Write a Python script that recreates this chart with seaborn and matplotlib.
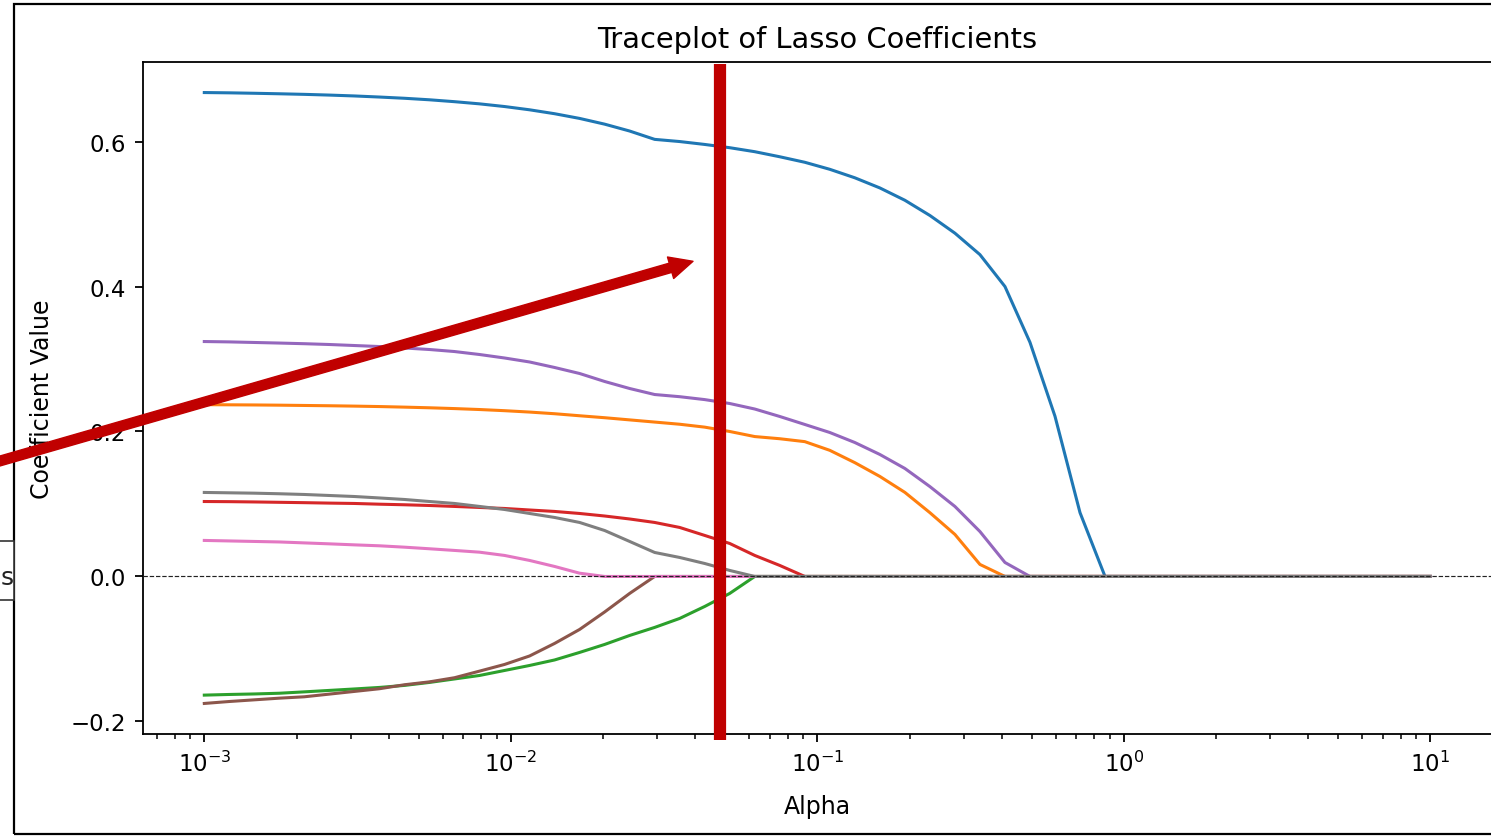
import matplotlib
matplotlib.use("Agg")
import matplotlib.pyplot as plt
import pandas as pd
import seaborn as sns
from matplotlib.patches import Rectangle, FancyArrowPatch

# Regularisation strengths (log-spaced grid, 1e-3 .. 1e1)
alphas = [0.001, 0.0012068, 0.0014563, 0.0017575, 0.0021210, 0.0025595, 0.0030888,
          0.0037276, 0.0044984, 0.0054287, 0.0065513, 0.0079060, 0.0095410, 0.011514,
          0.013895, 0.016768, 0.020236, 0.024421, 0.029471, 0.035565, 0.042919,
          0.051795, 0.062506, 0.075431, 0.091030, 0.10985, 0.13257, 0.15999, 0.19307,
          0.23300, 0.28118, 0.33932, 0.40949, 0.49417, 0.59636, 0.71969, 0.86851,
          1.0481, 1.2649, 1.5264, 1.8421, 2.2230, 2.6827, 3.2375, 3.9069, 4.7149,
          5.6899, 6.8665, 8.2864, 10.0]

# Lasso coefficient paths, one list per feature
coef_f1 = [0.6676, 0.6672, 0.6666, 0.6659, 0.6651, 0.6641, 0.6629, 0.6614, 0.6597, 0.6576,
           0.6550, 0.6520, 0.6483, 0.6438, 0.6384, 0.6319, 0.6240, 0.6145, 0.6030, 0.6000,
           0.5960, 0.5915, 0.5860, 0.5790, 0.5714, 0.5617, 0.5500, 0.5360, 0.5190, 0.4980,
           0.4736, 0.4440, 0.4000, 0.3230, 0.2210, 0.0880] + [0.0] * 14
coef_f2 = [0.2370, 0.2368, 0.2366, 0.2363, 0.2359, 0.2355, 0.2350, 0.2344, 0.2336, 0.2327,
           0.2316, 0.2303, 0.2287, 0.2268, 0.2245, 0.2217, 0.2190, 0.2160, 0.2130, 0.2100,
           0.2060, 0.2000, 0.1930, 0.1900, 0.1860, 0.1740, 0.1570, 0.1380, 0.1160, 0.0880,
           0.0580, 0.0166] + [0.0] * 18
coef_f3 = [-0.1637, -0.1628, -0.1621, -0.1611, -0.1592, -0.1572, -0.1552, -0.1531, -0.1503,
           -0.1462, -0.1414, -0.1366, -0.1297, -0.1228, -0.1152, -0.1048, -0.0938, -0.0814,
           -0.0703, -0.0579, -0.0414, -0.0234] + [0.0] * 28
coef_f4 = [0.1034, 0.1032, 0.1028, 0.1023, 0.1018, 0.1012, 0.1007, 0.0997, 0.0989, 0.0979,
           0.0966, 0.0952, 0.0938, 0.0917, 0.0897, 0.0869, 0.0834, 0.0793, 0.0745, 0.0676,
           0.0566, 0.0455, 0.0290, 0.0152] + [0.0] * 26
coef_f5 = [0.3241, 0.3236, 0.3228, 0.3220, 0.3211, 0.3200, 0.3186, 0.3172, 0.3152, 0.3131,
           0.3103, 0.3062, 0.3014, 0.2959, 0.2883, 0.2800, 0.2690, 0.2593, 0.2510, 0.2480,
           0.2440, 0.2386, 0.2310, 0.2207, 0.2097, 0.1986, 0.1848, 0.1683, 0.1490, 0.1240,
           0.0966, 0.0620, 0.0193] + [0.0] * 17
coef_f6 = [-0.1752, -0.1725, -0.1702, -0.1679, -0.1660, -0.1623, -0.1586, -0.1549, -0.1494,
           -0.1454, -0.1397, -0.1306, -0.1214, -0.1097, -0.0924, -0.0731, -0.0490,
           -0.0234] + [0.0] * 32
coef_f7 = [0.0497, 0.0490, 0.0483, 0.0476, 0.0463, 0.0450, 0.0436, 0.0423, 0.0404, 0.0382,
           0.0359, 0.0335, 0.0290, 0.0221, 0.0138, 0.0045] + [0.0] * 34
coef_f8 = [0.1159, 0.1154, 0.1149, 0.1141, 0.1131, 0.1117, 0.1103, 0.1083, 0.1062, 0.1034,
           0.1007, 0.0966, 0.0924, 0.0869, 0.0814, 0.0745, 0.0634, 0.0483, 0.0331, 0.0262,
           0.0179, 0.0083] + [0.0] * 28

feature_names = ["f1", "f2", "f3", "f4", "f5", "f6", "f7", "f8"]
paths = [coef_f1, coef_f2, coef_f3, coef_f4, coef_f5, coef_f6, coef_f7, coef_f8]

chosen_alpha = 0.048

rows = []
for name, path in zip(feature_names, paths):
    for a, c in zip(alphas, path):
        rows.append({"alpha": a, "coef": c, "feature": name})
df = pd.DataFrame(rows)

W, H = 1491, 837
fig = plt.figure(figsize=(W / 100, H / 100), dpi=100)
fig.patch.set_facecolor("white")
ax = fig.add_axes([143 / W, 1 - 735 / H, 1348.6 / W, 672 / H])

sns.lineplot(data=df, x="alpha", y="coef", hue="feature", hue_order=feature_names,
             palette="tab10", linewidth=2.2, legend=False, errorbar=None, ax=ax)
ax.set_xscale("log")
ax.set_xlim(10 ** -3.2, 10 ** 1.2)
ax.set_yticks([-0.2, 0.0, 0.2, 0.4, 0.6])

ax.axhline(0, color="#222222", linewidth=0.85, linestyle="--", zorder=3)

ax.set_title("Traceplot of Lasso Coefficients", fontsize=20.8, pad=11)
ax.set_xlabel("Alpha", fontsize=17)
ax.set_ylabel("Coefficient Value", fontsize=17)
ax.xaxis.set_label_coords(0.5, -0.089)
ax.yaxis.set_label_coords(-0.066, 0.5)

for sp in ax.spines.values():
    sp.set_linewidth(1.3)
ax.tick_params(axis="both", which="major", labelsize=16.5, length=6, width=1.3, pad=6)
ax.tick_params(axis="x", which="minor", length=3.4, width=1.1)

# highlighted alpha
ax.axvline(chosen_alpha, ymin=-0.009, ymax=0.997, color="#C00000", linewidth=8.8,
           solid_capstyle="butt", clip_on=False, zorder=6)

# outer frame
fig.add_artist(Rectangle((14 / W, 2 / H), 2.0, 830 / H, transform=fig.transFigure,
                         fill=False, edgecolor="black", linewidth=1.6, zorder=1))

# partially visible side box
fig.add_artist(Rectangle((-0.05, (H - 601) / H), 0.05 + 14 / W, 59 / H,
                         transform=fig.transFigure, facecolor="white",
                         edgecolor="#333333", linewidth=1.2, zorder=2))
fig.text(0.5 / W, 1 - 585 / H, "s", ha="left", va="baseline", fontsize=18, color="#222222")

# pointer arrow
fig.add_artist(FancyArrowPatch(posA=(-15 / W, 1 - 466.3 / H), posB=(693 / W, 1 - 262.3 / H),
                               transform=fig.transFigure,
                               arrowstyle="simple,head_length=1.68,head_width=1.61,tail_width=0.69",
                               mutation_scale=10, color="#C00000", shrinkA=0, shrinkB=0,
                               zorder=10))

fig.savefig("out.png", dpi=100)
